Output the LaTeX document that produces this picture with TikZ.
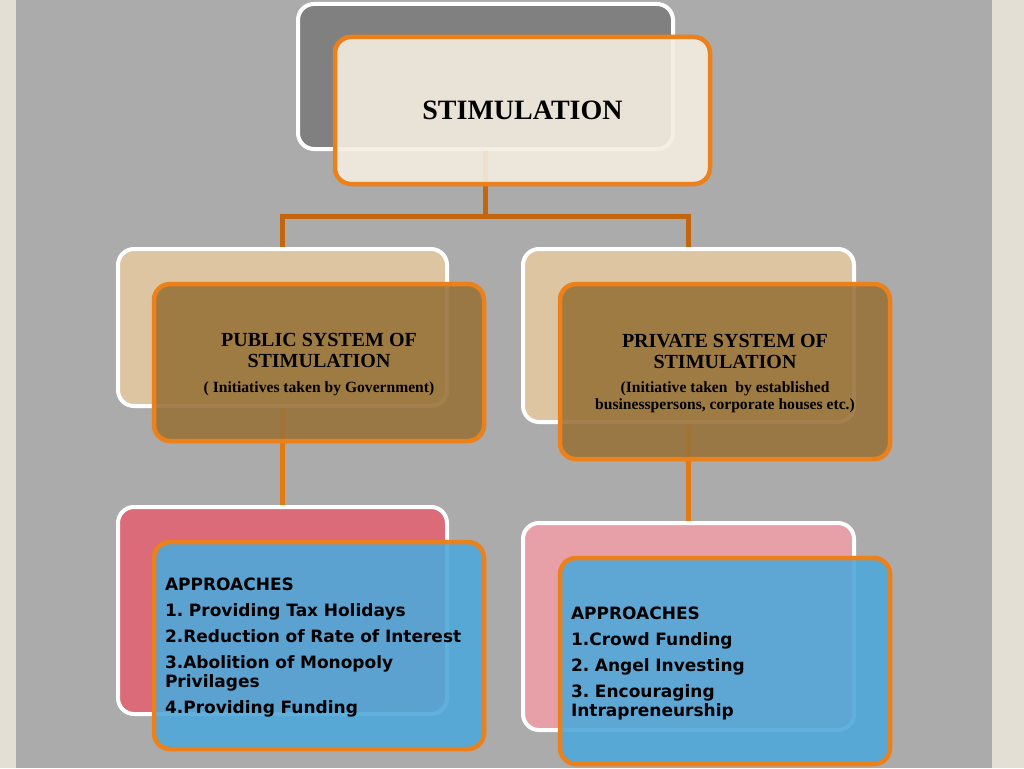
\documentclass[tikz,border=0pt]{standalone}
\usepackage{fontspec}
\setmainfont{Liberation Serif}
\newfontfamily\verdfont{DejaVu Sans}
\definecolor{bgc}{HTML}{ABABAB}
\definecolor{stripc}{HTML}{E3DFD4}
\definecolor{topbackc}{HTML}{808080}
\definecolor{topfrontc}{HTML}{F5EDE1}
\definecolor{midbackc}{HTML}{DCC5A0}
\definecolor{midfrontc}{HTML}{99733B}
\definecolor{pinkLc}{HTML}{DB6B78}
\definecolor{pinkRc}{HTML}{E8A0A8}
\definecolor{bluec}{HTML}{4FA8DA}
\definecolor{orbord}{HTML}{EC801A}
\definecolor{conntopc}{HTML}{C2660F}
\definecolor{connlowc}{HTML}{E27A12}
\newcommand{\subfnt}{\fontsize{15.6}{17}\selectfont}
\begin{document}
\frenchspacing
\begin{tikzpicture}[x=1pt,y=-1pt,
  backbox/.style={draw=white, line width=4pt, rounded corners=16pt, inner sep=0pt},
  frontbox/.style={draw=orbord, line width=4.5pt, rounded corners=16pt, fill opacity=0.9, text opacity=1, text=black},
  conntop/.style={draw=conntopc, line width=5pt},
  connlow/.style={draw=connlowc, line width=5pt},
  titlefont/.style={font=\fontsize{20}{21}\selectfont\bfseries, align=center},
  listfont/.style={font=\verdfont\fontsize{17}{19}\selectfont\bfseries, align=left, inner xsep=11pt, text width=308pt}
]
\useasboundingbox (0,0) rectangle (1024,768);
\fill[bgc] (0,0) rectangle (1024,768);
\fill[stripc] (0,0) rectangle (16,768);
\fill[stripc] (992,0) rectangle (1024,768);

% back boxes
\node[backbox, fill=topbackc, minimum width=375pt, minimum height=145pt] (topback) at (485.5,76.5) {};
\node[backbox, fill=midbackc, minimum width=329pt, minimum height=157pt] (midLback) at (282.5,327.5) {};
\node[backbox, fill=midbackc, minimum width=331pt, minimum height=173pt] (midRback) at (688.5,335.5) {};
\node[backbox, fill=pinkLc, minimum width=329pt, minimum height=207pt] (botLback) at (282.5,610.5) {};
\node[backbox, fill=pinkRc, minimum width=331pt, minimum height=207pt] (botRback) at (688.5,626.5) {};

% connectors
\coordinate (split) at (485.5,216.5);
\draw[conntop] (topback.south) -- (split);
\draw[conntop] (midLback.north) |- (split) -| (midRback.north);
\draw[connlow] (midLback.south) -- (botLback.north);
\draw[connlow] (midRback.south) -- (botRback.north);

% front boxes
\node[frontbox, fill=topfrontc, minimum width=375pt, minimum height=147pt,
      font=\fontsize{28}{30}\selectfont\bfseries] (topfront) at (522.5,110.5) {STIMULATION};
\node[frontbox, fill=midfrontc, minimum width=330pt, minimum height=157pt, titlefont] (midLfront) at (319,362.5)
  {\rule{0pt}{17.5pt}PUBLIC SYSTEM OF\\STIMULATION\\[4pt]\subfnt ( Initiatives taken by Government)};
\node[frontbox, fill=midfrontc, minimum width=330pt, minimum height=175pt, titlefont] (midRfront) at (725,371.5)
  {\rule{0pt}{17.5pt}PRIVATE SYSTEM OF\\STIMULATION\\[3pt]\subfnt (Initiative taken\ \ by established\\[-4pt]\subfnt businesspersons, corporate houses etc.)};
\node[frontbox, fill=bluec, minimum width=330pt, minimum height=207pt, listfont] (botLfront) at (319,645.5)
  {\rule{0pt}{16.5pt}APPROACHES\\[7pt]1. Providing Tax Holidays\\[7pt]2.Reduction of Rate of Interest\\[7pt]3.Abolition of Monopoly\\Privilages\\[7pt]4.Providing Funding};
\node[frontbox, fill=bluec, minimum width=330pt, minimum height=206pt, listfont] (botRfront) at (725,661)
  {\rule{0pt}{18pt}APPROACHES\\[7pt]1.Crowd Funding\\[7pt]2. Angel Investing\\[7pt]3. Encouraging\\Intrapreneurship};
\end{tikzpicture}
\end{document}
